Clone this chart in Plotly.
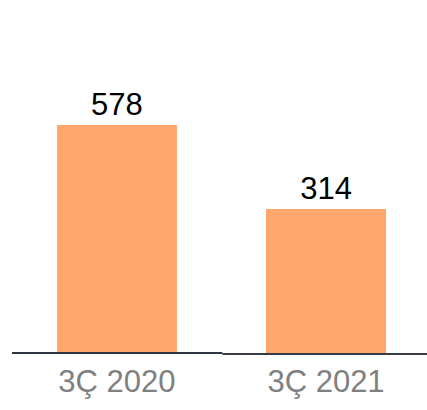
import plotly.graph_objects as go

categories = ["3Ç 2020", "3Ç 2021"]
values = [578, 314]
labels = ["578", "314"]

BASE = -139  # visual axis floor used by the original chart

fig = go.Figure(go.Bar(
    x=categories,
    y=[v - BASE for v in values],
    base=BASE,
    text=labels,
    textposition="outside",
    textfont=dict(family="Liberation Sans, Arial, sans-serif", size=31, color="#000000"),
    marker=dict(color="#FFA76D", line=dict(width=0)),
    width=0.574,
    cliponaxis=False,
    hoverinfo="skip",
))

# baseline drawn in two segments (slightly offset, as in the original)
fig.add_shape(type="line", xref="paper", yref="paper", x0=0, x1=0.507,
              y0=0, y1=0, line=dict(color="#2F3540", width=2), layer="above")
fig.add_shape(type="line", xref="paper", yref="paper", x0=0.507, x1=1.1,
              y0=-0.003, y1=-0.003, line=dict(color="#363B45", width=2), layer="above")

fig.update_layout(
    width=427, height=410,
    margin=dict(l=12, r=0, t=0, b=57),
    paper_bgcolor="white", plot_bgcolor="white",
    showlegend=False,
    xaxis=dict(
        type="category",
        range=[-0.502, 1.483],
        showline=False,
        showgrid=False, zeroline=False, ticks="",
        ticklabelstandoff=7,
        automargin=False,
        tickfont=dict(family="Liberation Sans, Arial, sans-serif", size=31, color="#808080"),
    ),
    yaxis=dict(range=[BASE, 971], visible=False, showgrid=False, zeroline=False, automargin=False),
)

fig.write_html(
    "out.html",
    config={"displayModeBar": False, "responsive": False},
    post_script=(
        "document.documentElement.style.overflow='hidden';"
        "document.documentElement.style.margin='0';"
        "document.body.style.margin='0';document.body.style.padding='0';"
        "document.body.style.overflow='hidden';"
        "var d=document.getElementById('{plot_id}');d.style.display='block';"
    ),
)
